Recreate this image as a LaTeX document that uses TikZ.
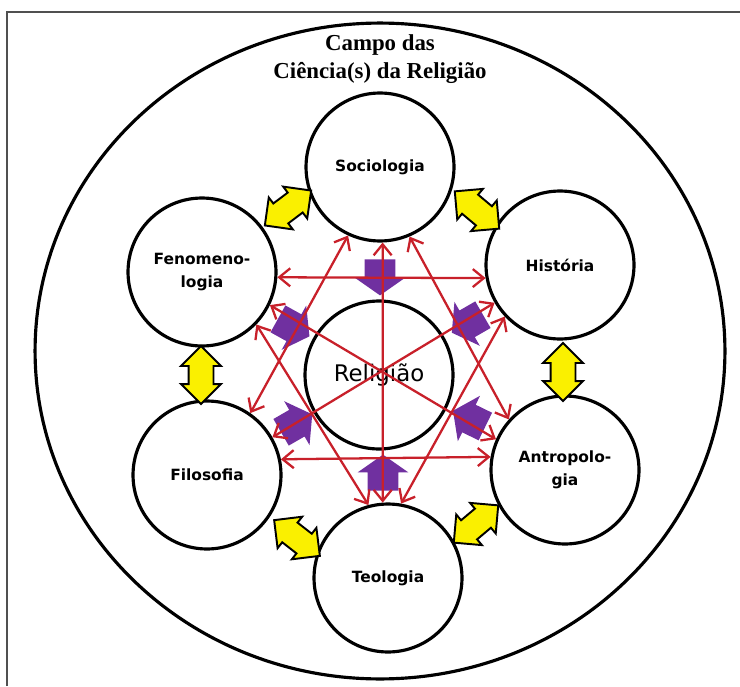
\documentclass[tikz,border=0pt]{standalone}
\usepackage{fontspec}
\setmainfont{Liberation Serif}
\newfontfamily\labfont{DejaVu Sans}
\usetikzlibrary{shapes.arrows,arrows.meta}
\definecolor{redline}{RGB}{200,32,42}
\definecolor{purp}{RGB}{112,48,160}
\definecolor{yell}{RGB}{250,240,0}
\definecolor{framegray}{RGB}{80,80,80}
\begin{document}
\begin{tikzpicture}[x=0.02cm,y=-0.02cm,
  disc/.style={circle,draw=black,line width=1.8pt,fill=white,minimum size=2.96cm,inner sep=0pt,
    font=\labfont\bfseries\fontsize{8.8}{12.8}\selectfont,align=center},
  purparrow/.style={single arrow,fill=purp,draw=none,minimum height=0.72cm,
    single arrow head extend=0.2cm,single arrow tip angle=110,inner xsep=0pt,inner ysep=0.3cm},
  yarrow/.style={double arrow,fill=yell,draw=black,line width=1.1pt,minimum height=1.16cm,
    double arrow head extend=0.15cm,inner xsep=0pt,inner ysep=0.23cm},
  redarr/.style={draw=redline,line width=1.3pt,
    {Straight Barb[length=2.2mm,width=3.6mm]}-{Straight Barb[length=2.2mm,width=3.6mm]}}
]
\useasboundingbox (0,0) rectangle (740,686);
\draw[framegray,line width=1pt] (7,686) -- (7,12) -- (740,12);
\draw[line width=1.8pt] (380,351) ellipse [x radius=6.9cm, y radius=6.56cm];
\node[font=\bfseries\fontsize{13}{15.5}\selectfont,align=center] (title) at (380,59) {Campo das\\Ciência(s) da Religião};

\node[disc] (soc) at (380,167) {Sociologia};
\node[disc] (hist) at (560,265) {História};
\node[disc] (fen) at (202,272) {Fenomeno-\\logia};
\node[disc] (filo) at (207,475) {Filosofia};
\node[disc] (antr) at (565,470) {Antropolo-\\gia};
\node[disc] (teo) at (388,578) {Teologia};
\node[disc,font=\labfont\fontsize{13}{15}\selectfont] (rel) at (379,375) {Religião};

\node[yarrow,rotate=37] (y1) at (288,208) {};
\node[yarrow,rotate=-40] (y2) at (477,210) {};
\node[yarrow,rotate=90] (y3) at (201,375) {};
\node[yarrow,rotate=90] (y4) at (563,372) {};
\node[yarrow,rotate=-38] (y5) at (297,538) {};
\node[yarrow,rotate=40] (y6) at (476,524) {};

\node[purparrow,rotate=-90] (p1) at (380,272) {};
\node[purparrow,rotate=-29] (p2) at (289,325) {};
\node[purparrow,rotate=30] (p3) at (292,426) {};
\node[purparrow,rotate=90] (p4) at (383,478) {};
\node[purparrow,rotate=-150] (p5) at (472,321) {};
\node[purparrow,rotate=154] (p6) at (474,421) {};

\draw[redarr] (fen.-4) -- (hist.190);
\draw[redarr] (filo.12) -- (antr.170);
\draw[redarr] (soc.-88) -- (teo.94);
\draw[redarr] (fen.-26) -- (antr.156);
\draw[redarr] (filo.30) -- (hist.210);
\draw[redarr] (soc.-115) -- (filo.55);
\draw[redarr] (soc.-67) -- (antr.138);
\draw[redarr] (fen.-44) -- (teo.105);
\draw[redarr] (hist.-137) -- (teo.80);
\end{tikzpicture}
\end{document}
